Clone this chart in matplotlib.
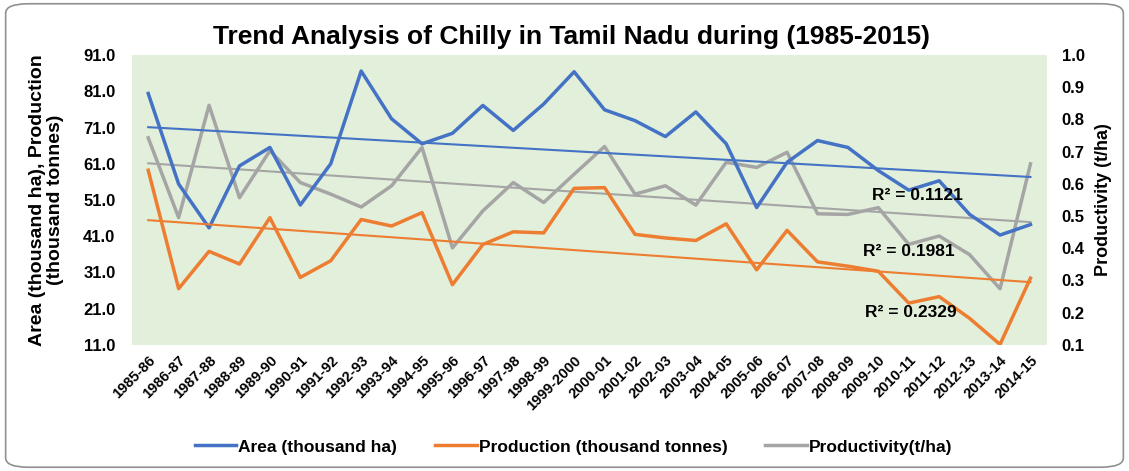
import numpy as np
import matplotlib.pyplot as plt
from matplotlib.patches import FancyBboxPatch

plt.rcParams['font.family'] = ['Liberation Sans', 'DejaVu Sans']
plt.rcParams['font.weight'] = 'bold'

# data
years = ["1985-86", "1986-87", "1987-88", "1988-89", "1989-90", "1990-91", "1991-92",
         "1992-93", "1993-94", "1994-95", "1995-96", "1996-97", "1997-98", "1998-99",
         "1999-2000", "2000-01", "2001-02", "2002-03", "2003-04", "2004-05", "2005-06",
         "2006-07", "2007-08", "2008-09", "2009-10", "2010-11", "2011-12", "2012-13",
         "2013-14", "2014-15"]
area = [80.4, 55.4, 43.3, 60.4, 65.5, 49.6, 61.0, 86.6, 73.4, 66.5,
        69.4, 77.1, 70.2, 77.5, 86.4, 75.9, 72.9, 68.5, 75.3, 66.5,
        48.9, 61.4, 67.4, 65.5, 59.1, 53.7, 56.3, 47.0, 41.3, 44.2]
production = [59.2, 26.5, 36.8, 33.3, 46.1, 29.6, 34.2, 45.6, 43.8, 47.5,
              27.6, 38.7, 42.2, 41.9, 54.2, 54.4, 41.5, 40.5, 39.8, 44.4,
              31.7, 42.6, 33.9, 32.7, 31.3, 22.5, 24.3, 18.3, 11.1, 29.4]
productivity = [0.743, 0.495, 0.844, 0.557, 0.703, 0.604, 0.568, 0.528, 0.594, 0.713,
                0.401, 0.516, 0.604, 0.542, 0.630, 0.716, 0.568, 0.594, 0.534, 0.667,
                0.651, 0.698, 0.507, 0.505, 0.526, 0.412, 0.438, 0.380, 0.274, 0.662]
r2_labels = ["R² = 0.1121", "R² = 0.1981", "R² = 0.2329"]

c_area = '#4472c4'
c_prod = '#ed7d31'
c_pty = '#a5a5a5'

fig = plt.figure(figsize=(11.29, 4.71), dpi=100)
ax = fig.add_axes([0.117, 0.268, 0.81, 0.615])
ax2 = ax.twinx()
ax.set_zorder(ax2.get_zorder() + 1)
ax.patch.set_visible(False)
ax2.set_facecolor('#e2efda')
ax2.patch.set_visible(True)

x = np.arange(len(years))

# linear trend lines
def trend(vals):
    k, b = np.polyfit(x, vals, 1)
    return k * x + b

ax2.plot(x, productivity, color=c_pty, lw=2.5)
ax2.plot(x, trend(productivity), color=c_pty, lw=1.5)

l1, = ax.plot(x, area, color=c_area, lw=2.5, label='Area (thousand ha)')
l2, = ax.plot(x, production, color=c_prod, lw=2.5, label='Production (thousand tonnes)')
ax.plot(x, trend(area), color=c_area, lw=1.5)
ax.plot(x, trend(production), color=c_prod, lw=1.5)
l3, = ax.plot([], [], color=c_pty, lw=2.5, label='Productivity(t/ha)')

ax.text(23.8, 52.1, r2_labels[0], fontsize=12.5, fontweight='bold', va='center')
ax.text(23.5, 36.8, r2_labels[1], fontsize=12.5, fontweight='bold', va='center')
ax.text(23.55, 19.9, r2_labels[2], fontsize=12.5, fontweight='bold', va='center')

ax.set_xlim(-0.53, 29.53)
ax.set_ylim(11, 91)
lt = np.arange(11, 92, 10)
ax.set_yticks(lt)
ax.set_yticklabels([f"{v:.1f}" for v in lt], fontsize=12, fontweight='bold')
ax2.set_ylim(0.1, 1.0)
rt = np.arange(0.1, 1.01, 0.1)
ax2.set_yticks(rt)
ax2.set_yticklabels([f"{v:.1f}" for v in rt], fontsize=12, fontweight='bold')

ax.set_xticks(x)
ax.set_xticklabels(years, rotation=45, ha='right', rotation_mode='anchor', fontsize=10.5, fontweight='bold')

for a in (ax, ax2):
    for s in a.spines.values():
        s.set_visible(False)
    a.tick_params(length=0)
ax.tick_params(axis='x', pad=6)
ax.tick_params(axis='y', pad=12)
ax2.tick_params(axis='y', pad=11)

ax.set_ylabel("Area (thousand ha), Production\n(thousand tonnes)", fontsize=14, fontweight='bold',
              labelpad=14, linespacing=1.05)
ax2.set_ylabel("Productivity (t/ha)", fontsize=13, fontweight='bold', labelpad=7)

fig.text(0.506, 0.921, "Trend Analysis of Chilly in Tamil Nadu during (1985-2015)",
         ha='center', va='center', fontsize=19, fontweight='bold')

fig.legend(handles=[l1, l2, l3], loc='center', bbox_to_anchor=(0.508, 0.051), ncol=3,
           frameon=False, fontsize=12.5, handlelength=2.4, columnspacing=2.2, handletextpad=0.1)

fig.patches.append(FancyBboxPatch((0.005, 0.008), 0.99, 0.984, boxstyle='round,pad=0,rounding_size=0.02',
                                  transform=fig.transFigure, fill=False, edgecolor='#909090', lw=1.2))

fig.savefig('out.png', dpi=100)
